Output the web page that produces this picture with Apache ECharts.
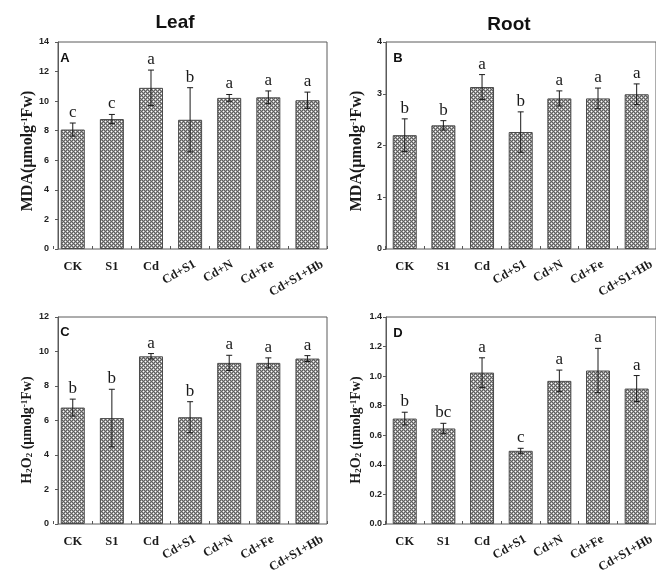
<!DOCTYPE html>
<html>
<head>
<meta charset="utf-8">
<script src="https://cdn.jsdelivr.net/npm/echarts@6/dist/echarts.min.js"></script>
<style>
html,body{margin:0;padding:0;background:#fff;}
#chart{width:656px;height:577px;}
</style>
</head>
<body>
<div id="chart"></div>
<script>
// ---- data ----
const categories = ['CK', 'S1', 'Cd', 'Cd+S1', 'Cd+N', 'Cd+Fe', 'Cd+S1+Hb'];

const leafMDA = [8.08, 8.79, 10.9, 8.74, 10.22, 10.26, 10.06];
const leafMDAErr = [0.44, 0.31, 1.2, 2.17, 0.23, 0.43, 0.55];
const leafMDALetters = ['c', 'c', 'a', 'b', 'a', 'a', 'a'];

const rootMDA = [2.20, 2.39, 3.13, 2.26, 2.91, 2.91, 2.99];
const rootMDAErr = [0.315, 0.09, 0.24, 0.39, 0.145, 0.2, 0.2];
const rootMDALetters = ['b', 'b', 'a', 'b', 'a', 'a', 'a'];

const leafH2O2 = [6.75, 6.14, 9.72, 6.19, 9.34, 9.34, 9.59];
const leafH2O2Err = [0.49, 1.67, 0.16, 0.9, 0.44, 0.29, 0.17];
const leafH2O2Letters = ['b', 'b', 'a', 'b', 'a', 'a', 'a'];

const rootH2O2 = [0.713, 0.646, 1.024, 0.495, 0.968, 1.038, 0.916];
const rootH2O2Err = [0.043, 0.035, 0.1, 0.017, 0.073, 0.15, 0.088];
const rootH2O2Letters = ['b', 'bc', 'a', 'c', 'a', 'a', 'a'];

const yMaxA = 14, yStepA = 2;
const yMaxB = 4, yStepB = 1;
const yMaxC = 12, yStepC = 2;
const yMaxD = 1.4, yStepD = 0.2;

// ---- pattern ----
function makePattern() {
  const c = document.createElement('canvas');
  c.width = 4; c.height = 4;
  const g = c.getContext('2d');
  g.fillStyle = '#5e5e5e'; g.fillRect(0, 0, 4, 4);
  g.fillStyle = '#a2a2a2';
  [[0,1],[2,1],[1,0],[1,2],[2,3],[0,3],[3,2],[3,0]].forEach(p => g.fillRect(p[0], p[1], 1, 1));
  g.fillStyle = '#ffffff';
  g.fillRect(1, 1, 1, 1); g.fillRect(3, 3, 1, 1);
  return c;
}
const pattern = { image: makePattern(), repeat: 'repeat' };

const xFont = 'bold 12.5px "Liberation Serif"';
const measureCtx = document.createElement('canvas').getContext('2d');
measureCtx.font = xFont;
function textW(s) { return measureCtx.measureText(s).width; }

const panels = [
  { vals: leafMDA, errs: leafMDAErr, letters: leafMDALetters, max: yMaxA, step: yStepA, dec: 0,
    barLeft: 53.2, barWidth: 273.8, frameLeft: 58, frameWidth: 269, top: 42, height: 207, margin: 9 },
  { vals: rootMDA, errs: rootMDAErr, letters: rootMDALetters, max: yMaxB, step: yStepB, dec: 0,
    barLeft: 385.4, barWidth: 274.2, frameLeft: 386, frameWidth: 274, top: 42, height: 207, margin: 4 },
  { vals: leafH2O2, errs: leafH2O2Err, letters: leafH2O2Letters, max: yMaxC, step: yStepC, dec: 0,
    barLeft: 53.2, barWidth: 273.8, frameLeft: 58, frameWidth: 269, top: 317, height: 207, margin: 9 },
  { vals: rootH2O2, errs: rootH2O2Err, letters: rootH2O2Letters, max: yMaxD, step: yStepD, dec: 1,
    barLeft: 385.4, barWidth: 274.2, frameLeft: 386, frameWidth: 274, top: 317, height: 207, margin: 4 }
];

const grid = [], xAxis = [], yAxis = [], series = [];
panels.forEach((p, k) => {
  const gb = 2 * k, gf = 2 * k + 1;
  grid.push({ left: p.barLeft, width: p.barWidth, top: p.top, height: p.height, show: false });
  grid.push({ left: p.frameLeft, width: p.frameWidth, top: p.top, height: p.height, show: true,
              borderColor: '#5a5a5a', borderWidth: 1, backgroundColor: 'transparent' });
  xAxis.push({ type: 'category', gridIndex: gb, data: categories, boundaryGap: true,
    axisLine: { show: false },
    axisTick: { show: true, inside: true, length: 3, interval: 0, lineStyle: { color: '#555' } },
    axisLabel: { show: false } });
  xAxis.push({ type: 'value', gridIndex: gf, min: 0, max: 1, show: false });
  yAxis.push({ type: 'value', gridIndex: gb, min: 0, max: p.max, interval: p.step, show: false });
  yAxis.push({ type: 'value', gridIndex: gf, min: 0, max: p.max, interval: p.step,
    splitLine: { show: false },
    axisLine: { show: true, lineStyle: { color: '#5a5a5a' } },
    axisTick: { show: true, length: 3, lineStyle: { color: '#5a5a5a' } },
    axisLabel: { margin: p.margin, color: '#222', fontFamily: 'Liberation Sans', fontWeight: 'bold', fontSize: 9,
      formatter: v => v.toFixed(p.dec) } });

  series.push({ type: 'bar', xAxisIndex: gb, yAxisIndex: gb, data: p.vals, barWidth: 24, z: 2,
    itemStyle: { color: pattern, borderColor: '#4a4a4a', borderWidth: 1 }, silent: true });

  const letters = p.letters;
  series.push({ type: 'custom', xAxisIndex: gb, yAxisIndex: gb, z: 5,
    data: p.vals.map((v, i) => [i, v, p.errs[i]]),
    encode: { x: 0, y: 1 },
    renderItem: function (params, api) {
      const i = api.value(0), v = api.value(1), e = api.value(2);
      const t = api.coord([i, v + e]);
      const b = api.coord([i, v - e]);
      const x = t[0], cw = 3;
      const ls = { stroke: '#1a1a1a', lineWidth: 1 };
      return { type: 'group', children: [
        { type: 'line', shape: { x1: x, y1: t[1], x2: x, y2: b[1] }, style: ls },
        { type: 'line', shape: { x1: x - cw, y1: t[1], x2: x + cw, y2: t[1] }, style: ls },
        { type: 'line', shape: { x1: x - cw, y1: b[1], x2: x + cw, y2: b[1] }, style: ls },
        { type: 'text', x: x, y: t[1] - 2, style: { text: letters[i], font: '17px "Liberation Serif"',
          fill: '#1a1a1a', align: 'center', verticalAlign: 'bottom' } }
      ] };
    } });

  series.push({ type: 'custom', xAxisIndex: gb, yAxisIndex: gb, z: 5,
    data: categories.map((c, i) => [i, 0]),
    encode: { x: 0, y: 1 },
    renderItem: function (params, api) {
      const i = api.value(0);
      const pt = api.coord([i, 0]);
      const name = categories[i];
      if (name.indexOf('+') >= 0) {
        const w = textW(name), h = 12.5;
        const cy = pt[1] + 9 + 0.25 * w + 0.433 * h;
        return { type: 'text', x: pt[0] - 11, y: cy, rotation: Math.PI / 6,
          style: { text: name, font: xFont, fill: '#1a1a1a', align: 'center', verticalAlign: 'middle' } };
      }
      return { type: 'text', x: pt[0], y: pt[1] + 18,
        style: { text: name, font: xFont, fill: '#1a1a1a', align: 'center', verticalAlign: 'middle' } };
    } });
});

const mdaRich = { b: { font: 'bold 16px "Liberation Serif"', fill: '#1a1a1a' },
                  s: { font: 'bold 9px "Liberation Serif"', fill: '#1a1a1a', verticalAlign: 'top' } };
const h2Rich = { b: { font: 'bold 14px "Liberation Serif"', fill: '#1a1a1a' },
                 s: { font: 'bold 9px "Liberation Serif"', fill: '#1a1a1a', verticalAlign: 'top' },
                 d: { font: 'bold 9px "Liberation Serif"', fill: '#1a1a1a', verticalAlign: 'bottom' } };
const mdaText = '{b|MDA(μmolg}{s|-1}{b|Fw)}';
const h2Text = '{b|H}{d|2}{b|O}{d|2}{b| (μmolg}{s|-1}{b|Fw)}';

function title(txt, x, y) {
  return { type: 'text', x: x, y: y, style: { text: txt, font: 'bold 19px "Liberation Sans"', fill: '#111',
    align: 'center', verticalAlign: 'middle' } };
}
function ytitle(txt, rich, x, y) {
  return { type: 'text', x: x, y: y, rotation: Math.PI / 2,
    style: { text: txt, rich: rich, align: 'center', verticalAlign: 'middle' } };
}
function letter(txt, x, y) {
  return { type: 'text', x: x, y: y, style: { text: txt, font: 'bold 13px "Liberation Sans"', fill: '#111',
    align: 'center', verticalAlign: 'middle' } };
}

const chart = echarts.init(document.getElementById('chart'), null, { renderer: 'canvas' });
chart.setOption({
  backgroundColor: '#fff',
  animation: false,
  grid: grid, xAxis: xAxis, yAxis: yAxis, series: series,
  graphic: [
    title('Leaf', 175, 23), title('Root', 509, 25),
    ytitle(mdaText, mdaRich, 28, 151), ytitle(mdaText, mdaRich, 357, 151),
    ytitle(h2Text, h2Rich, 27, 430), ytitle(h2Text, h2Rich, 356, 430),
    letter('A', 65, 58), letter('B', 398, 58), letter('C', 65, 332), letter('D', 398, 333)
  ]
});
</script>
</body>
</html>
